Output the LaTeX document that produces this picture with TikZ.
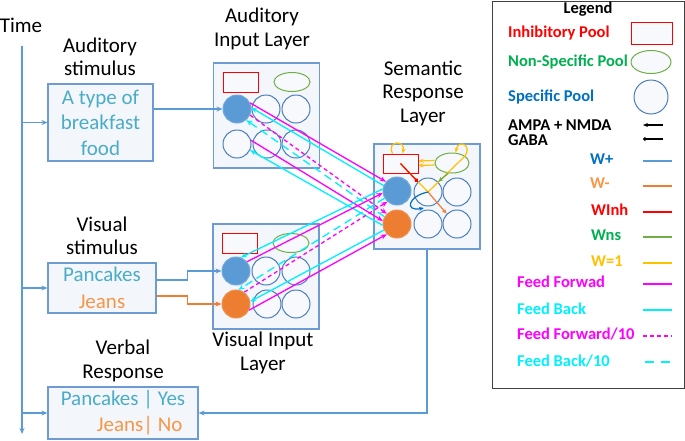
\documentclass[tikz,border=0pt]{standalone}
\usepackage{fontspec}
\setmainfont{Carlito}
\usetikzlibrary{arrows.meta,shapes.geometric}
\definecolor{boxb}{HTML}{6E9CD2}
\definecolor{boxf}{HTML}{F3F6FB}
\definecolor{cirb}{HTML}{4A7EBB}
\definecolor{cirf}{HTML}{F8F9FC}
\definecolor{bfill}{HTML}{5B9BD5}
\definecolor{ofill}{HTML}{ED7D31}
\definecolor{tealtx}{HTML}{4BACC6}
\definecolor{jeans}{HTML}{F79646}
\definecolor{magc}{HTML}{FF00FF}
\definecolor{cyc}{HTML}{00F0FF}
\definecolor{lgreen}{HTML}{00B050}
\definecolor{lblue}{HTML}{0070C0}
\definecolor{gold}{HTML}{FFC000}
\definecolor{wns}{HTML}{70AD47}
\definecolor{wplus}{HTML}{5B9BD5}
\definecolor{wminus}{HTML}{ED7D31}
\definecolor{timeln}{HTML}{5B9BD5}
\begin{document}
\begin{tikzpicture}[x=1pt,y=-1pt,
  every node/.style={inner sep=0pt},
  big/.style={font=\fontsize{21}{23.5}\selectfont, align=center},
  leg/.style={font=\bfseries\fontsize{16.5}{18}\selectfont, anchor=west},
  stimbox/.style={draw=boxb, line width=1.2pt, fill=boxf, align=center},
  layer/.style={draw=boxb, line width=1.2pt, fill=boxf, minimum width=106pt, minimum height=105pt},
  pool/.style={circle, draw=cirb, line width=1pt, fill=cirf, minimum size=28pt},
  bpool/.style={circle, fill=bfill, draw=bfill!85!white, line width=1pt, minimum size=28pt},
  opool/.style={circle, fill=ofill, draw=ofill!85!white, line width=1pt, minimum size=28pt},
  inhpool/.style={draw=red, line width=1pt, fill=cirf, minimum width=35pt, minimum height=20pt},
  nspool/.style={ellipse, draw=wns, line width=1pt, fill=cirf, minimum width=36pt, minimum height=19pt},
  tl/.style={timeln, line width=1.2pt},
  tarrow/.style={tl, -{Stealth[length=6pt,width=5pt]}},
  ffw/.style={magc, line width=1.3pt, -{Stealth[length=6pt,width=5pt]}},
  fbk/.style={cyc, line width=1.3pt, -{Stealth[length=6pt,width=5pt]}},
  ffwd/.style={ffw, dash pattern=on 4pt off 3pt},
  fbkd/.style={fbk, dash pattern=on 8pt off 5pt},
  wone/.style={gold, line width=1.2pt},
  samp/.style={line width=1.2pt}
]
\useasboundingbox (0,0) rectangle (685,440);

% ---------- labels ----------
\node[big] (timelbl) at (21,25) {Time};
\node[big] (audstimlbl) at (100,57) {Auditory\\stimulus};
\node[big] (visstimlbl) at (102,236) {Visual\\stimulus};
\node[big] (verblbl) at (123,361) {Verbal\\Response};
\node[big] (audlay) at (262,29) {Auditory\\Input Layer};
\node[big] (semlay) at (423,93) {Semantic\\Response\\Layer};
\node[big] (vislay) at (263,353) {Visual Input\\Layer};

% ---------- stimulus boxes ----------
\node[stimbox, minimum width=105pt, minimum height=77pt,
      font=\fontsize{21}{25.5}\selectfont, text=tealtx] (astim) at (100.5,122.5)
      {A type of\\breakfast\\food};
\node[stimbox, minimum width=108pt, minimum height=50pt,
      font=\fontsize{21}{27}\selectfont] (vstim) at (102,288)
      {{\color{tealtx}Pancakes}\\{\color{jeans}Jeans}};
\node[stimbox, minimum width=150pt, minimum height=50pt,
      font=\fontsize{21}{26}\selectfont] (verb) at (123,413)
      {\begin{tabular}{@{}r@{}l@{}}
       \color{tealtx}Pancakes | & \color{tealtx}\ Yes\\
       \color{jeans}Jeans| & \color{jeans}\ No
       \end{tabular}};

% ---------- layers ----------
\node[layer] (aud) at (266.5,115.5) {};
\node[layer] (vis) at (266,276.5) {};
\node[layer] (sem) at (427,196.5) {};

% auditory pools
\node[inhpool] (inhA) at (240.5,82) {};
\node[nspool] (nsA) at (292,82) {};
\node[bpool] (A1) at (237,109) {};
\node[pool] (A1b) at (266,109) {};
\node[pool] (A1c) at (296,109) {};
\node[pool] (A2) at (237,144) {};
\node[pool] (A2b) at (267,144) {};
\node[pool] (A2c) at (296,144) {};

% visual pools
\node[inhpool] (inhV) at (239.5,243) {};
\node[nspool] (nsV) at (291,243) {};
\node[bpool] (V1) at (236,271) {};
\node[pool] (V1b) at (266,271) {};
\node[pool] (V1c) at (296,271) {};
\node[opool] (V2) at (236,304) {};
\node[pool] (V2b) at (267,304) {};
\node[pool] (V2c) at (296,304) {};

% semantic pools
\node[inhpool, minimum height=19pt] (inhS) at (400.5,163.5) {};
\node[nspool, minimum width=34pt, minimum height=20pt] (nsS) at (452,163) {};
\node[bpool] (S1) at (397,191) {};
\node[pool] (S1b) at (428,192) {};
\node[pool] (S1c) at (457,192) {};
\node[opool] (S2) at (397,224) {};
\node[pool] (S2b) at (428,224) {};
\node[pool] (S2c) at (457,224) {};

% ---------- time line ----------
\coordinate (t0) at (22,46);
\coordinate (t1) at (22,434);
\draw[tarrow] (t0) -- (t1);
\draw[tarrow] (t0 |- astim.west) -- (astim.west);
\draw[tarrow] (t0 |- vstim.west) -- (vstim.west);
\draw[tarrow] (t0 |- verb.west) -- (verb.west);

% stimulus inputs
\draw[tarrow] (astim.east |- A1) -- (A1.west);
\draw[tarrow] ([yshift=8pt]vstim.east) -- ++(31,0) |- (V1.west);
\draw[wminus, line width=1.2pt, -{Stealth[length=6pt,width=5pt]}] ([yshift=-8pt]vstim.east) -- ++(31,0) |- (V2.west);
\draw[tarrow] (sem.south) |- (verb.east);

% ---------- feed forward / back ----------
% auditory
\draw[ffw]  (A1.25)  -- (S1.140);
\draw[fbk]  (S1.158) -- (A1.5);
\draw[ffwd] (A1.-25) -- (S2.135);
\draw[fbkd] (S2.150) -- (A1.-50);
\draw[ffw]  (A2.15)  -- (S2.168);
\draw[fbk]  (S2.185) -- (A2.-25);
% visual
\draw[ffw]  (V1.40)  -- (S1.188);
\draw[fbk]  (S1.172) -- (V1.70);
\draw[ffwd] (V2.55)  -- (S1.228);
\draw[fbkd] (S1.210) -- (V2.80);
\draw[fbk]  (S2.205) -- (V2.10);
\draw[ffw]  (V2.-25) -- (S2.225);

% ---------- semantic internal ----------
\coordinate (X) at (S1b.center);
\coordinate (nsR) at (464,157);
\coordinate (wtip) at (424,208);
\draw[wone, -{Stealth[length=5pt,width=4pt]}] ([xshift=-8pt]inhS.north) .. controls (386,140) and (406,140) .. ([xshift=2pt]inhS.north);
\draw[wone, -{Stealth[length=5pt,width=4pt]}] ([yshift=2.5pt]nsS.west) -- ([yshift=2.5pt]inhS.east);
\draw[wone, -{Stealth[length=5pt,width=4pt]}] ([yshift=-2pt]nsS.west) -- ([yshift=-2pt]inhS.east);
\draw[wone, {Stealth[length=5pt,width=4pt]}-] (nsS.70) .. controls (458,138) and (474,146) .. (nsR) -- (X);
\draw[wone] (inhS.center) -- (X);
\draw[wminus, line width=1.2pt, -{Stealth[length=5pt,width=4pt]}] (X) -- (S2c.135);
\draw[lblue, line width=1.2pt, -{Stealth[length=5pt,width=4pt]}] (X) .. controls (408,196) and (404,212) .. (wtip);
\draw[wns, line width=1.2pt, -{Stealth[length=5pt,width=4pt]}] (nsS.250) -- (S1b.45);
\draw[red, line width=1.2pt, -{Circle[length=4pt]}] (inhS.center) -- (S1b.135);

% ---------- legend ----------
\node[draw=black!75, line width=1pt, minimum width=192pt, minimum height=387pt] (legend) at (588,195) {};
\node[font=\bfseries\fontsize{16.5}{18}\selectfont] (legt) at (588,9) {Legend};
\node[leg, text=red] (l1) at (508,33) {Inhibitory Pool};
\node[inhpool, minimum width=41pt, minimum height=22pt] (l1s) at (651.5,33) {};
\node[leg, text=lgreen] (l2) at (508,62) {Non-Specific Pool};
\node[nspool, minimum width=40pt, minimum height=23pt] (l2s) at (651,62) {};
\node[leg, text=lblue] (l3) at (508,97) {Specific Pool};
\node[pool, minimum size=34pt] (l3s) at (651,97) {};
\node[leg] (l4) at (508,125) {AMPA + NMDA};
\node[leg] (l5) at (508,140) {GABA};
\draw[samp, -{Stealth[length=5pt,width=4pt]}] (663,125) -- (643,125);
\draw[samp, -{Circle[length=3.5pt]}] (663,139) -- (643,139);
\node[leg, text=lblue] (l6) at (590,159) {W+};
\draw[samp, wplus] (643,161) -- (672,161);
\node[leg, text=jeans] (l7) at (590,183) {W-};
\draw[samp, wminus] (643,186) -- (672,186);
\node[leg, text=red] (l8) at (591,210) {WInh};
\draw[samp, red] (643,212) -- (672,212);
\node[leg, text=lgreen] (l9) at (591,235) {Wns};
\draw[samp, wns] (643,237) -- (672,237);
\node[leg, text=gold] (l10) at (591,261) {W=1};
\draw[samp, gold] (643,263) -- (672,263);
\node[leg, text=magc] (l11) at (517,282) {Feed Forwad};
\draw[samp, magc] (643,284) -- (672,284);
\node[leg, text=cyc] (l12) at (517,309) {Feed Back};
\draw[samp, cyc] (643,310) -- (672,310);
\node[leg, text=magc] (l13) at (517,334) {Feed Forward/10};
\draw[samp, magc, dash pattern=on 4pt off 3pt] (643,336) -- (672,336);
\node[leg, text=cyc] (l14) at (517,361) {Feed Back/10};
\draw[samp, cyc, dash pattern=on 9pt off 7pt] (645,362) -- (672,362);
\end{tikzpicture}
\end{document}
